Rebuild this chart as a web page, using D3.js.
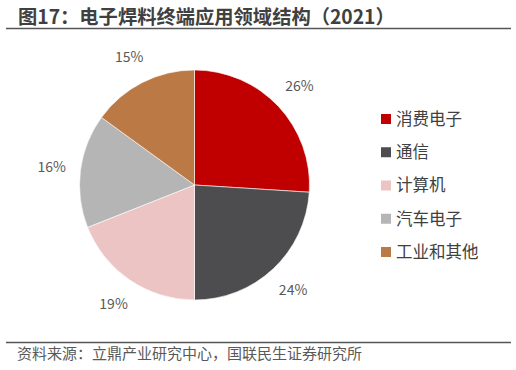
<!DOCTYPE html>
<html><head><meta charset="utf-8">
<script src="https://cdn.jsdelivr.net/npm/d3@7"></script>
<style>
html,body{margin:0;padding:0;background:#fff;}
svg{display:block;}
text{font-family:"Noto Sans CJK SC","Noto Sans",sans-serif;}
</style></head>
<body>
<script>
const categories = ["消费电子","通信","计算机","汽车电子","工业和其他"];
const values = [26,24,19,16,15];
const labels = ["26%","24%","19%","16%","15%"];
const colors = ["#C00000","#4D4D4F","#ECC4C4","#B5B5B5","#BA7945"];

const W = 516, H = 370;
const svg = d3.select("body").append("svg").attr("width",W).attr("height",H);

svg.append("text").attr("x",18).attr("y",23.5)
  .attr("font-size",19.3).attr("font-weight",700).attr("fill","#404040")
  .text("图17：电子焊料终端应用领域结构（2021）");
svg.append("line").attr("x1",6).attr("x2",511).attr("y1",28.5).attr("y2",28.5)
  .attr("stroke","#555").attr("stroke-width",1.5);
svg.append("line").attr("x1",6).attr("x2",511).attr("y1",342.5).attr("y2",342.5)
  .attr("stroke","#555").attr("stroke-width",1.5);
svg.append("text").attr("x",17).attr("y",359)
  .attr("font-size",15).attr("fill","#595959")
  .text("资料来源：立鼎产业研究中心，国联民生证券研究所");

const cx = 194.5, cy = 185, R = 115;
const pie = d3.pie().sort(null).value(d=>d)(values);
const arc = d3.arc().innerRadius(0).outerRadius(R);
const g = svg.append("g").attr("transform",`translate(${cx},${cy})`);
g.selectAll("path").data(pie).join("path")
  .attr("d",arc).attr("fill",(d,i)=>colors[i])
  .attr("stroke","#fff").attr("stroke-width",0.6);

const labelArc = d3.arc().innerRadius(R+29).outerRadius(R+29);
g.selectAll("text.lbl").data(pie).join("text").attr("class","lbl")
  .attr("transform",d=>`translate(${labelArc.centroid(d)})`)
  .attr("text-anchor","middle").attr("dy","0.35em")
  .attr("font-size",14).attr("fill","#595959")
  .text((d,i)=>labels[i]);

const ly = d3.scalePoint().domain(categories).range([119,252]);
const lg = svg.append("g");
categories.forEach((c,i)=>{
  lg.append("rect").attr("x",381).attr("y",ly(c)-5).attr("width",10).attr("height",10).attr("fill",colors[i]);
  lg.append("text").attr("x",396).attr("y",ly(c)).attr("dy","0.36em")
    .attr("font-size",16.5).attr("fill","#404040").text(c);
});
</script>
</body></html>
